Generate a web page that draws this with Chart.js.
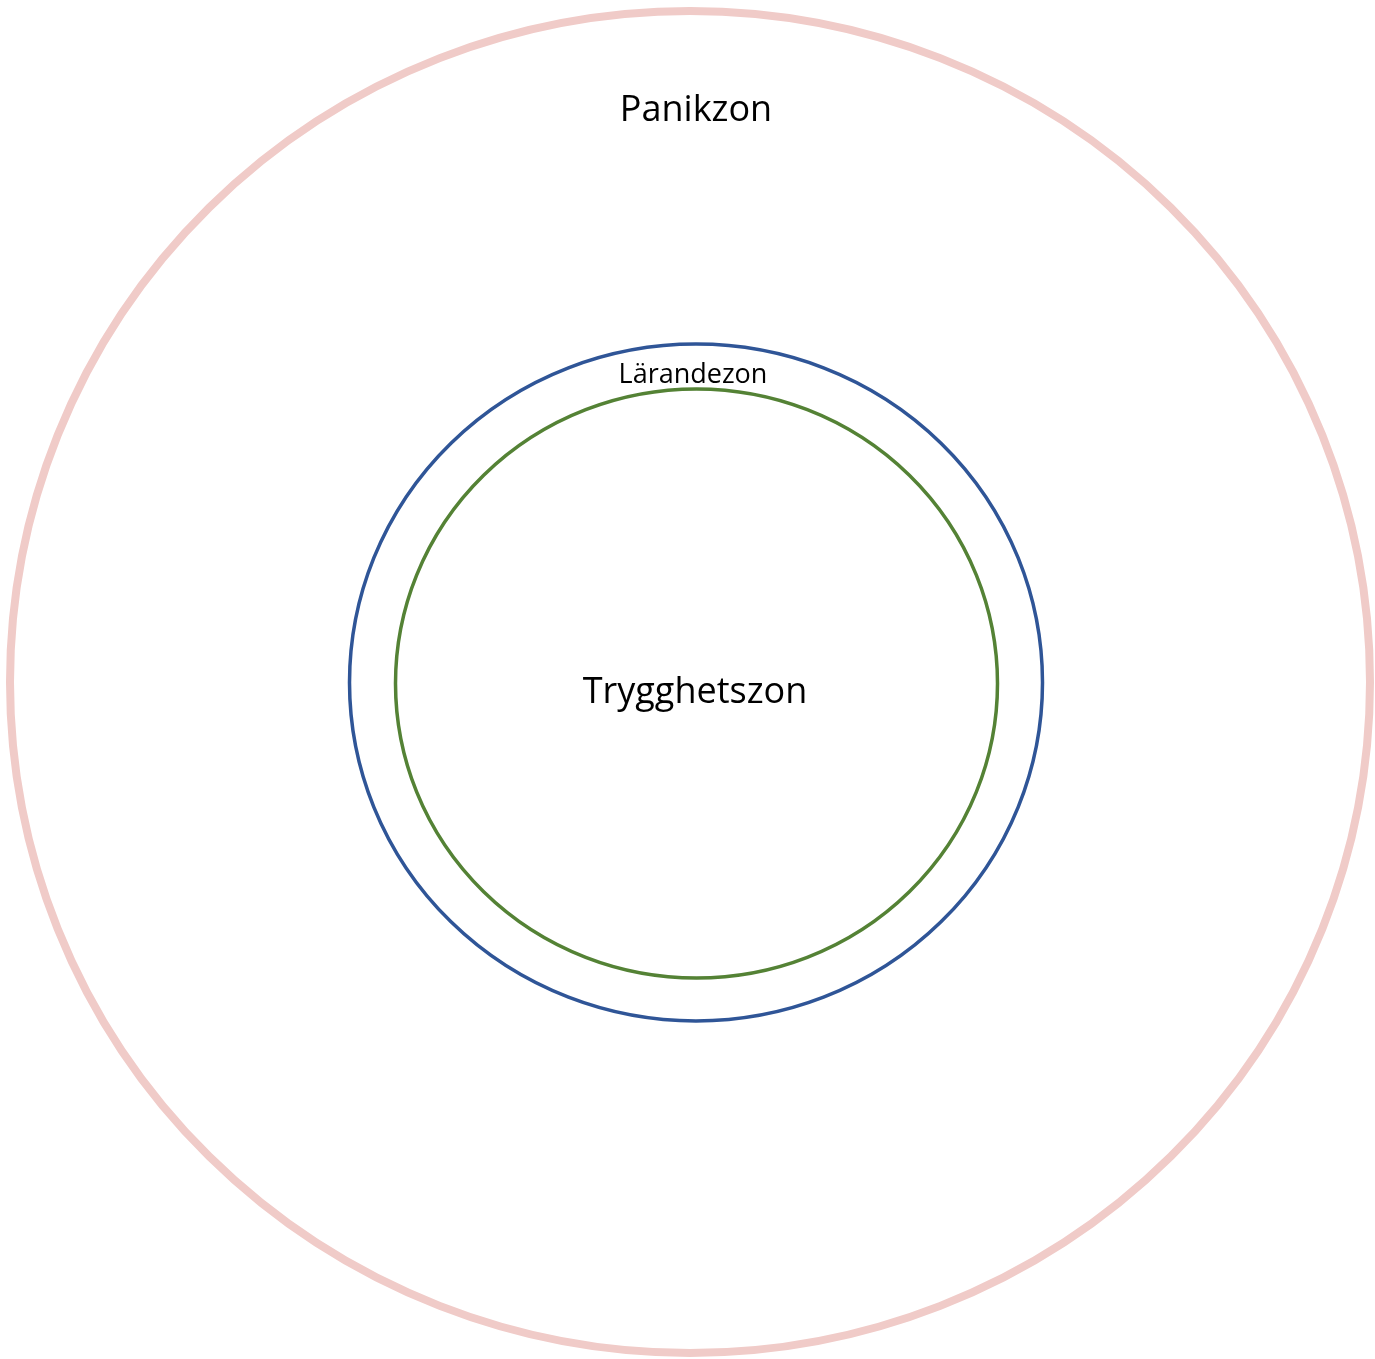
<!DOCTYPE html>
<html>
<head>
<meta charset="utf-8">
<script src="https://cdn.jsdelivr.net/npm/chart.js@4/dist/chart.umd.min.js"></script>
<style>
  html, body { margin: 0; padding: 0; background: #fff; }
  #wrap { width: 1375px; height: 1359px; }
</style>
</head>
<body>
<div id="wrap"><canvas id="chart" width="1375" height="1359"></canvas></div>
<script>
// zones, outermost first
var zones = ['Panikzon', 'Lärandezon', 'Trygghetszon'];
var centerX = [0, 6, 6.5];
var centerY = [0, -0.5, -1.5];
var radiusX = [680, 346.5, 301];
var radiusY = [671, 338.5, 294.5];

// label anchor (x = middle, y = baseline)
var labelX = [6, 3, 5];
var labelY = [561, 299, -21];

var colors = ['#F0CBC8', '#2F5597', '#548235'];
var lineWidths = [8, 3.5, 3.5];
var fontSizes = [36, 27, 36];

var zonePlugin = {
    id: 'zones',
    afterDatasetsDraw: function(chart) {
        var ctx = chart.ctx;
        var xs = chart.scales.x;
        var ys = chart.scales.y;
        ctx.save();
        zones.forEach(function(name, i) {
            var cx = xs.getPixelForValue(centerX[i]);
            var cy = ys.getPixelForValue(centerY[i]);
            var rx = Math.abs(xs.getPixelForValue(centerX[i] + radiusX[i]) - cx);
            var ry = Math.abs(ys.getPixelForValue(centerY[i] + radiusY[i]) - cy);
            ctx.beginPath();
            ctx.ellipse(cx, cy, rx, ry, 0, 0, Math.PI * 2);
            ctx.strokeStyle = colors[i];
            ctx.lineWidth = lineWidths[i];
            ctx.stroke();
        });
        zones.forEach(function(name, i) {
            ctx.fillStyle = '#000';
            ctx.font = fontSizes[i] + 'px "Open Sans"';
            ctx.textAlign = 'center';
            ctx.textBaseline = 'alphabetic';
            ctx.fillText(name, xs.getPixelForValue(labelX[i]), ys.getPixelForValue(labelY[i]));
        });
        ctx.restore();
    }
};

var ctx = document.getElementById('chart').getContext('2d');

var chart = new Chart(ctx, {
    type: 'scatter',
    data: {
        datasets: zones.map(function(name, i) {
            return {
                label: name,
                data: [{ x: centerX[i], y: centerY[i] }],
                pointRadius: 0
            };
        })
    },
    options: {
        responsive: false,
        animation: false,
        layout: { padding: 0 },
        plugins: {
            legend: { display: false },
            tooltip: { enabled: false }
        },
        scales: {
            x: { type: 'linear', min: -690, max: 685, display: false },
            y: { type: 'linear', min: -677, max: 682, display: false }
        }
    },
    plugins: [zonePlugin]
});
</script>
</body>
</html>
